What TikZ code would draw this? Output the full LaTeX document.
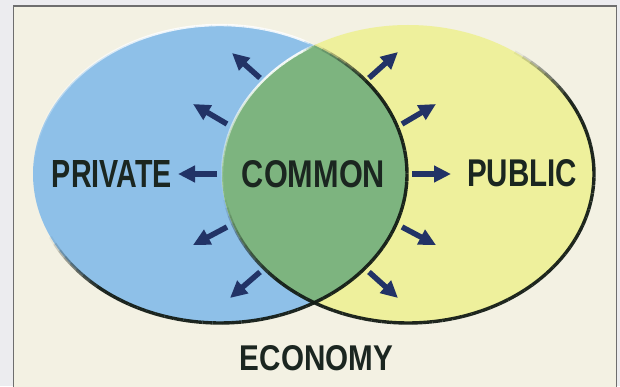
\documentclass[tikz,border=0pt]{standalone}
\usepackage{fontspec}
\usepackage{graphicx}
\usetikzlibrary{arrows.meta}
\newfontfamily\lblfont{Liberation Sans}

\definecolor{pagegray}{HTML}{ECECEF}
\definecolor{paper}{HTML}{F3F1E3}
\definecolor{framegray}{HTML}{6E6E6E}
\definecolor{privblue}{HTML}{8EC0E8}
\definecolor{pubyellow}{HTML}{EEF09C}
\definecolor{commongreen}{HTML}{7DB47F}
\definecolor{rimdark}{HTML}{131C16}
\definecolor{arrownavy}{HTML}{223366}
\definecolor{labelink}{HTML}{1B2620}

% bold condensed label squeezed to a given width and cap height
\newcommand\fitlabel[3]{\resizebox{#1pt}{#2pt}{\lblfont\bfseries #3}}

% elliptical rim stroke that fades in and out along its length
% #1 centre, #2 rx, #3 ry, #4 start, #5 end, #6 fade-in, #7 fade-out, #8 style, #9 peak opacity
\newcommand\rimarc[9]{%
  \pgfmathsetmacro\rimStep{(#5-#4)/72}%
  \foreach \k in {0,...,71}{%
    \pgfmathsetmacro\rimA{#4+\k*\rimStep}%
    \pgfmathsetmacro\rimB{\rimA+\rimStep}%
    \pgfmathsetmacro\rimM{\rimA+0.5*\rimStep}%
    \pgfmathsetmacro\rimO{#9*max(0,min(1,min((\rimM-#4)/#6,(#5-\rimM)/#7)))}%
    \draw[#8, draw opacity=\rimO] (#1) ++(\rimA:#2 and #3)
      arc[start angle=\rimA, end angle=\rimB, x radius=#2, y radius=#3];
  }%
}

\tikzset{
  setlabel/.style={inner sep=0pt, text=labelink},
  flowarrow/.style={draw=arrownavy, line width=5.5pt,
    -{Triangle[length=17pt,width=16pt]}},
  darkrim/.style={rimdark, line width=3.4pt},
  lightrim/.style={white, line width=2.4pt},
}

\begin{document}
\begin{tikzpicture}[x=1pt,y=1pt]
  \useasboundingbox (0,0) rectangle (620,386);
  \fill[pagegray] (0,0) rectangle (620,386);
  \draw[framegray, line width=1.3pt, fill=paper] (13.5,-6) rectangle (616.5,380);

  % the two sectors and their overlap
  \coordinate (blue) at (220,212);
  \coordinate (yellow) at (408,212);
  \fill[privblue] (blue) ellipse [x radius=187, y radius=149];
  \fill[pubyellow] (yellow) ellipse [x radius=186, y radius=149];
  \begin{scope}
    \clip (blue) ellipse [x radius=187, y radius=149];
    \fill[commongreen] (yellow) ellipse [x radius=186, y radius=149];
  \end{scope}

  % shaded rims
  \rimarc{blue}{187}{149}{205}{419.8}{25}{22}{darkrim}{0.95}
  \rimarc{yellow}{186}{149}{190}{415}{35}{25}{darkrim}{0.95}
  \rimarc{blue}{187}{149}{59.8}{178}{4}{70}{lightrim}{0.85}
  \rimarc{yellow}{186}{149}{120.4}{190}{4}{50}{lightrim}{0.9}

  % labels
  \node[setlabel] (private) at (112,212.5) {\fitlabel{120}{27}{PRIVATE}};
  \node[setlabel] (common)  at (313.5,212) {\fitlabel{143}{27}{COMMON}};
  \node[setlabel] (public)  at (522,212.5) {\fitlabel{110}{27}{PUBLIC}};
  \node[setlabel] (economy) at (316.5,27.5) {\fitlabel{153}{25}{ECONOMY}};

  % arrows radiating from the common sector
  \coordinate (l1t) at (260,308); \coordinate (l1h) at (232,333);
  \coordinate (l2t) at (227,262); \coordinate (l2h) at (193,282);
  \coordinate (l3t) at (217,212); \coordinate (l3h) at (178,212);
  \coordinate (l4t) at (227,159); \coordinate (l4h) at (193,141);
  \coordinate (l5t) at (260,114); \coordinate (l5h) at (230,88);
  \coordinate (r1t) at (369,308); \coordinate (r1h) at (398,334);
  \coordinate (r2t) at (402,262); \coordinate (r2h) at (436,282);
  \coordinate (r3t) at (412,212); \coordinate (r3h) at (451,212);
  \coordinate (r4t) at (402,159); \coordinate (r4h) at (436,141);
  \coordinate (r5t) at (369,114); \coordinate (r5h) at (398,88);
  \foreach \s in {l1,l2,l3,l4,l5,r1,r2,r3,r4,r5}
    \draw[flowarrow] (\s t) -- (\s h);
\end{tikzpicture}
\end{document}
